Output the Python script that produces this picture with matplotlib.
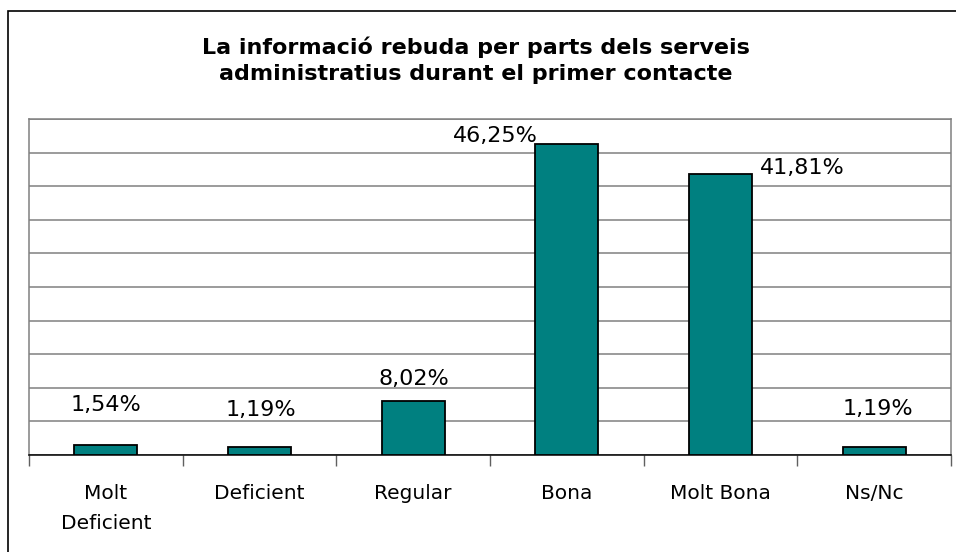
import numpy as np
import matplotlib
matplotlib.use("Agg")
import matplotlib.pyplot as plt
from matplotlib.patches import Rectangle

categories = ["Molt\nDeficient", "Deficient", "Regular", "Bona", "Molt Bona", "Ns/Nc"]
values = [1.54, 1.19, 8.02, 46.25, 41.81, 1.19]
value_labels = ["1,54%", "1,19%", "8,02%", "46,25%", "41,81%", "1,19%"]
title = "La informació rebuda per parts dels serveis\nadministratius durant el primer contacte"

# label offsets in pixels (dx, dy) from bar top centre, as Excel placed them
label_offsets = [(0, 40), (1, 37), (1, 22), (-71, 8), (82, 6), (4, 38)]

fig = plt.figure(figsize=(9.56, 5.52), dpi=100)
fig.patches.append(Rectangle((8 / 956, -0.01), 1.0, (552 - 11) / 552 + 0.01,
                             transform=fig.transFigure, fill=False,
                             edgecolor="black", linewidth=1.2))

ax = fig.add_axes([29 / 956, (552 - 455) / 552, (951 - 29) / 956, (455 - 119) / 552])
x = np.arange(len(categories))
ax.bar(x, values, width=0.41, color="#008080", edgecolor="black", linewidth=1.3, zorder=3)

ax.set_xlim(-0.5, len(categories) - 0.5)
ax.set_ylim(0, 50)
ax.set_yticks(np.arange(0, 51, 5))
ax.yaxis.grid(True, color="#808080", linewidth=1.1)
ax.tick_params(axis="y", length=0, labelleft=False)

ax.set_xticks(x)
ax.set_xticklabels(categories, fontsize=14.5, family="DejaVu Sans", linespacing=1.7, va="top")
ax.tick_params(axis="x", length=0, pad=21)
ax.set_xticks(np.arange(-0.5, len(categories)), minor=True)
ax.tick_params(axis="x", which="minor", length=8, width=1, color="#606060", direction="out")

for side in ["left", "top", "right"]:
    ax.spines[side].set_color("#808080")
    ax.spines[side].set_linewidth(1.1)
ax.spines["bottom"].set_color("black")
ax.spines["bottom"].set_linewidth(1.1)

for xi, v, lab, (dx, dy) in zip(x, values, value_labels, label_offsets):
    ax.annotate(lab, (xi, v), xytext=(dx, dy), textcoords="offset pixels",
                ha="center", va="center", fontsize=16, zorder=4)

fig.text(476 / 956, 1 - 60 / 552, title, ha="center", va="center",
         fontsize=16, fontweight="bold", linespacing=1.35)

fig.savefig("out.png", dpi=100)
